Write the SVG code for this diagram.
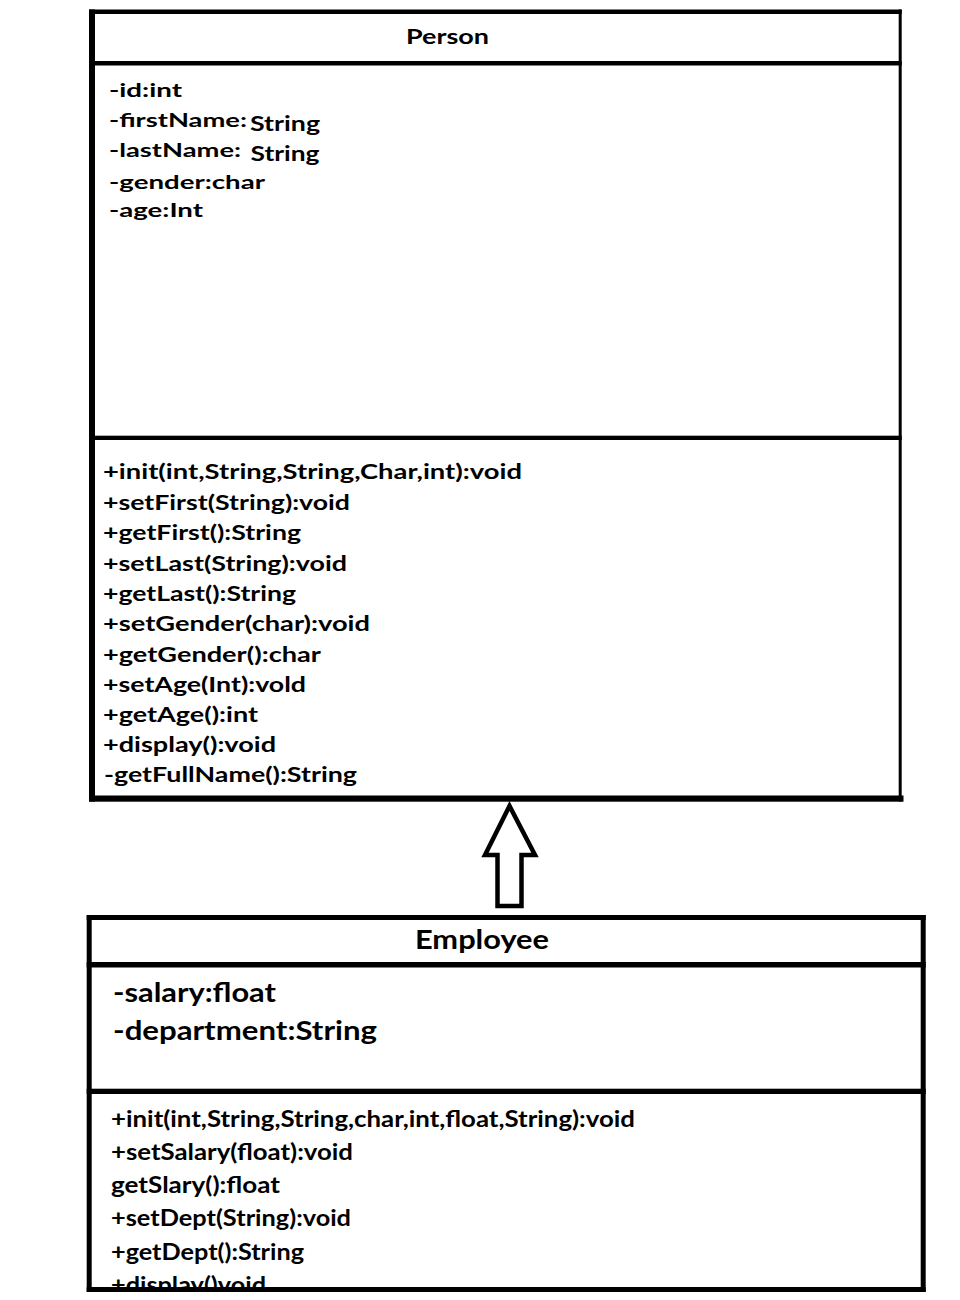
<svg xmlns="http://www.w3.org/2000/svg" width="960" height="1300" viewBox="0 0 960 1300">
<style>
  text { font-family: Lato, "Open Sans", "Liberation Sans", sans-serif; font-weight: bold; fill: #000; }
  .bar { fill: #000; }
  .pt { font-size: 21px; }
  .pa { font-size: 19px; }
  .ps { font-size: 21px; }
  .pm { font-size: 21px; }
  .et { font-size: 26px; }
  .ea { font-size: 26px; }
  .em { font-size: 22px; }
  .arrow { fill: #fff; stroke: #000; stroke-width: 4.5; stroke-linejoin: miter; }
</style>
<defs>
  <clipPath id="empClip"><rect x="91" y="1094" width="830" height="194"/></clipPath>
</defs>
<rect x="0" y="0" width="960" height="1300" fill="#fff"/>

<g id="person">
  <text class="pt" x="406" y="43.5" textLength="83" lengthAdjust="spacingAndGlyphs">Person</text>
  <text class="pa" x="109" y="97" textLength="73" lengthAdjust="spacingAndGlyphs">-id:int</text>
  <text class="pa" x="109" y="127" textLength="138" lengthAdjust="spacingAndGlyphs">-firstName:</text>
  <text class="ps" x="250" y="130.5" textLength="70" lengthAdjust="spacingAndGlyphs">String</text>
  <text class="pa" x="109" y="157" textLength="132" lengthAdjust="spacingAndGlyphs">-lastName:</text>
  <text class="ps" x="250.5" y="161" textLength="69" lengthAdjust="spacingAndGlyphs">String</text>
  <text class="pa" x="109" y="188.5" textLength="156" lengthAdjust="spacingAndGlyphs">-gender:char</text>
  <text class="pa" x="109" y="217" textLength="94" lengthAdjust="spacingAndGlyphs">-age:Int</text>

  <text class="pm" x="103" y="479" textLength="419" lengthAdjust="spacingAndGlyphs">+init(int,String,String,Char,int):void</text>
  <text class="pm" x="103" y="509.5" textLength="247" lengthAdjust="spacingAndGlyphs">+setFirst(String):void</text>
  <text class="pm" x="103" y="540" textLength="198" lengthAdjust="spacingAndGlyphs">+getFirst():String</text>
  <text class="pm" x="103" y="570.5" textLength="244" lengthAdjust="spacingAndGlyphs">+setLast(String):void</text>
  <text class="pm" x="103" y="601" textLength="193" lengthAdjust="spacingAndGlyphs">+getLast():String</text>
  <text class="pm" x="103" y="631" textLength="267" lengthAdjust="spacingAndGlyphs">+setGender(char):void</text>
  <text class="pm" x="103" y="661.5" textLength="218" lengthAdjust="spacingAndGlyphs">+getGender():char</text>
  <text class="pm" x="103" y="692" textLength="203" lengthAdjust="spacingAndGlyphs">+setAge(Int):vold</text>
  <text class="pm" x="103" y="722" textLength="155" lengthAdjust="spacingAndGlyphs">+getAge():int</text>
  <text class="pm" x="103" y="752" textLength="173" lengthAdjust="spacingAndGlyphs">+display():void</text>
  <text class="pm" x="104" y="782" textLength="253" lengthAdjust="spacingAndGlyphs">-getFullName():String</text>

  <rect class="bar" x="89" y="9.5" width="812.7" height="4.5"/>
  <rect class="bar" x="89" y="61" width="812.7" height="4.5"/>
  <rect class="bar" x="89" y="435.7" width="812.7" height="4.3"/>
  <rect class="bar" x="89" y="9.5" width="6" height="792"/>
  <rect class="bar" x="898.7" y="9.5" width="3" height="792"/>
  <rect class="bar" x="89" y="795.5" width="814.5" height="6.2"/>
</g>

<g id="employee">
  <text class="et" x="415" y="949" textLength="134" lengthAdjust="spacingAndGlyphs">Employee</text>
  <text class="ea" x="113" y="1002" textLength="163" lengthAdjust="spacingAndGlyphs">-salary:float</text>
  <text class="ea" x="113" y="1040" textLength="264" lengthAdjust="spacingAndGlyphs">-department:String</text>

  <g clip-path="url(#empClip)">
    <text class="em" x="111" y="1127" textLength="524" lengthAdjust="spacingAndGlyphs">+init(int,String,String,char,int,float,String):void</text>
    <text class="em" x="111" y="1160" textLength="242" lengthAdjust="spacingAndGlyphs">+setSalary(float):void</text>
    <text class="em" x="111" y="1193" textLength="169" lengthAdjust="spacingAndGlyphs">getSlary():float</text>
    <text class="em" x="111" y="1226" textLength="240" lengthAdjust="spacingAndGlyphs">+setDept(String):void</text>
    <text class="em" x="111" y="1259.5" textLength="193" lengthAdjust="spacingAndGlyphs">+getDept():String</text>
    <text class="em" x="111" y="1292.5" textLength="155" lengthAdjust="spacingAndGlyphs">+display()void</text>
  </g>

  <rect class="bar" x="86.7" y="915" width="839" height="5"/>
  <rect class="bar" x="86.7" y="962" width="839" height="5.5"/>
  <rect class="bar" x="86.7" y="1088.7" width="839" height="5.3"/>
  <rect class="bar" x="86.7" y="915" width="5" height="377"/>
  <rect class="bar" x="920.7" y="915" width="5" height="377"/>
  <rect class="bar" x="86.7" y="1287" width="839" height="5"/>
</g>

<g id="connectors">
  <polygon class="arrow" points="509.5,806 485,855 497.5,855 497.5,906 521.5,906 521.5,855 535,855"/>
</g>
</svg>
